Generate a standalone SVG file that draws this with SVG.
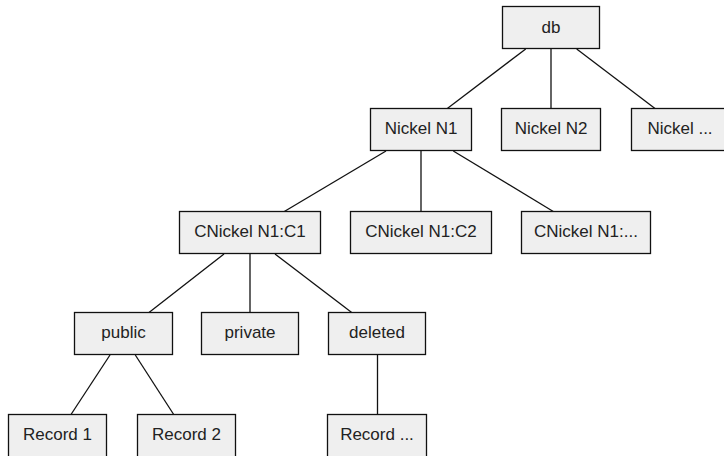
<svg xmlns="http://www.w3.org/2000/svg" width="724" height="456" viewBox="0 0 724 456">
<style>
.box{fill:#efefef;stroke:#111;stroke-width:1.3}
.lbl{font-family:"Liberation Sans",Arial,sans-serif;font-size:17px;fill:#222;text-anchor:middle}
#edges line{stroke:#111;stroke-width:1.3}
</style>
<rect width="724" height="456" fill="#fff"/>
<g id="edges">
<line x1="525.7" y1="49" x2="447.3" y2="108.5"/>
<line x1="551" y1="49" x2="551" y2="108.5"/>
<line x1="576.7" y1="49" x2="655" y2="108.5"/>
<line x1="386" y1="151" x2="284.3" y2="211.5"/>
<line x1="421" y1="151" x2="421" y2="211.5"/>
<line x1="453.3" y1="151" x2="553.3" y2="211.5"/>
<line x1="224" y1="254" x2="149" y2="312.5"/>
<line x1="250" y1="254" x2="250" y2="312.5"/>
<line x1="275" y1="254" x2="351.7" y2="312.5"/>
<line x1="110" y1="355" x2="71" y2="414.5"/>
<line x1="135.3" y1="355" x2="173.7" y2="414.5"/>
<line x1="377.5" y1="355" x2="377.5" y2="414.5"/>
</g>
<g id="db"><rect class="box" x="502.5" y="6.5" width="97" height="42"/><text class="lbl" x="551" y="32.5">db</text></g>
<g id="nickel-n1"><rect class="box" x="370.5" y="108.5" width="101" height="42"/><text class="lbl" x="421" y="133.5">Nickel N1</text></g>
<g id="nickel-n2"><rect class="box" x="501.5" y="108.5" width="99" height="42"/><text class="lbl" x="551" y="133.5">Nickel N2</text></g>
<g id="nickel-more"><rect class="box" x="631.5" y="108.5" width="97" height="42"/><text class="lbl" x="680" y="133.5">Nickel ...</text></g>
<g id="cnickel-c1"><rect class="box" x="179.5" y="211.5" width="141" height="42"/><text class="lbl" x="250" y="236.5">CNickel N1:C1</text></g>
<g id="cnickel-c2"><rect class="box" x="350.5" y="211.5" width="141" height="42"/><text class="lbl" x="421" y="236.5">CNickel N1:C2</text></g>
<g id="cnickel-more"><rect class="box" x="521.5" y="211.5" width="129" height="42"/><text class="lbl" x="586" y="236.5">CNickel N1:...</text></g>
<g id="public"><rect class="box" x="74.5" y="312.5" width="98" height="42"/><text class="lbl" x="123.5" y="337.5">public</text></g>
<g id="private"><rect class="box" x="201.5" y="312.5" width="97" height="42"/><text class="lbl" x="250" y="337.5">private</text></g>
<g id="deleted"><rect class="box" x="328.5" y="312.5" width="97" height="42"/><text class="lbl" x="377" y="337.5">deleted</text></g>
<g id="record-1"><rect class="box" x="8.5" y="414.5" width="98" height="43"/><text class="lbl" x="57.5" y="440">Record 1</text></g>
<g id="record-2"><rect class="box" x="137.5" y="414.5" width="98" height="43"/><text class="lbl" x="186.5" y="440">Record 2</text></g>
<g id="record-more"><rect class="box" x="327.5" y="414.5" width="99" height="43"/><text class="lbl" x="377" y="440">Record ...</text></g>
</svg>
